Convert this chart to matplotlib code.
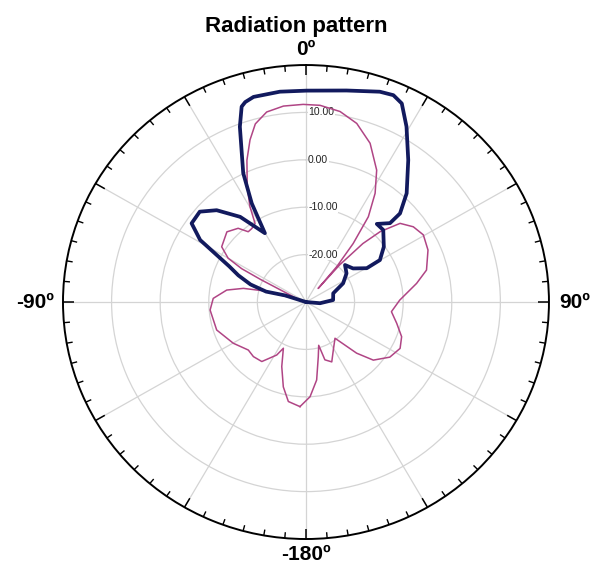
import numpy as np
import matplotlib
matplotlib.use("Agg")
import matplotlib.pyplot as plt

plt.rcParams['font.family'] = ['Liberation Sans', 'DejaVu Sans']

# ---- data (angle in degrees, clockwise from top; gain in dB) ----
navy_theta = [-65, -72, -75, -72, -68, -64.5, -59, -54.8, -48.9, -43.5, -37, -30.2,
              -28.2, -25.4, -20.2, -17.8, -16.5, -14, -6.9, 0.2, 10.6, 18.9, 22.4, 25.2,
              29.2, 35.1, 42.1, 46, 46.1, 41.5, 46.3, 54, 59.8, 60.3, 53.8, 45.8,
              54.1, 62.7, 71.9, 85.7, 95, 110]
navy_db = [-30, -25.5, -21.5, -18, -15, -12.5, -4.6, -1.2, -1.0, -3.3, -7.5, -13.2,
           -6.4, 0.1, 9.4, 13.3, 14.0, 14.6, 14.7, 14.6, 15.4, 16.9, 17.2, 16.3,
           12.4, 6.6, 0.9, -3.1, -6.0, -8.0, -8.0, -10.2, -12.4, -15.6, -18.0, -18.8,
           -19.7, -21.4, -24.1, -24.4, -27.1, -30]

mag_theta = [-176.8, -170.2, -165.4, -159.9, -154.5, -151.7, -144.1, -136.8, -130.5,
             -120.2, -107.8, -94.9, -87.7, -81.2, -77.4, -74.9, -71.0, -64.0, -63.0,
             -62.0, -60.0, -56.1, -47.7, -41.9, -38.7, -35.7, -32.3, -29.8, -26.5,
             -22.1, -18.6, -15.5, -11.4, -6.4, -0.8, 4.0, 9.9, 15.5, 21.5, 27.6,
             31.8, 35.5, 38.2, 40.3, 41.2, 41.5, 43.5, 45.8, 49.4, 54.3, 59.6, 66.4,
             74.8, 80.2, 88.8, 96.6, 103.5, 110.4, 116.8, 124.0, 131.5, 136.0, 140.1,
             142.0, 151.0, 157.2, 162.3, 164.0, 167.6, 172.4, 177.6]
mag_db = [-7.9, -8.7, -11.5, -15.5, -19.2, -17.3, -14.5, -14.2, -14.4,
          -12.7, -10.7, -10.2, -10.9, -13.5, -16.8, -20.9, -28.5, -24.0, -19.5,
          -15.0, -11.5, -9.1, -8.0, -9.1, -11.0, -10.9, -10.4, -6.8, -2.9,
          2.3, 6.1, 9.0, 10.9, 11.6, 11.7, 11.6, 10.8, 9.1, 6.0, 1.4,
          -3.0, -7.9, -14.3, -20.2, -26.2, -19.5, -13.0, -8.7, -4.5, -2.8, -2.0, -2.6,
          -4.3, -6.9, -10.7, -12.3, -10.8, -9.0, -8.3, -9.2, -11.5, -15.0, -19.1,
          -20.3, -18.4, -16.3, -17.2, -20.5, -18.2, -13.4, -10.0]

r_ticks = [-20, -10, 0, 10]
r_tick_labels = ['-20.00', '-10.00', '0.00', '10.00']
angle_grid = list(range(0, 360, 30))
angle_minor = list(range(0, 360, 5))
angle_labels = [0, 90, 180, 270]
angle_label_text = ['0º', '90º', '-180º', '-90º']
title = 'Radiation pattern'

R_MIN, R_MAX = -30, 20

# ---- figure ----
fig = plt.figure(figsize=(5.92, 5.64), dpi=100)
ax = fig.add_axes([0.1064, 0.0443, 0.8209, 0.8404], projection='polar')
ax.set_aspect('auto')
ax.set_theta_zero_location('N')
ax.set_theta_direction(-1)
ax.set_ylim(R_MIN, R_MAX)

mt = np.deg2rad(np.append(mag_theta, mag_theta[0] + 360))
md = np.append(mag_db, mag_db[0])
ax.plot(mt, md, color='#b04585', lw=1.1, solid_joinstyle='round', zorder=3)
ax.plot(np.deg2rad(navy_theta), navy_db, color='#121a5e', lw=2.7,
        solid_joinstyle='round', solid_capstyle='round', zorder=4)

ax.set_yticks(r_ticks)
ax.set_yticklabels([])
ax.set_xticks(np.deg2rad(angle_grid))
ax.set_xticklabels([])
ax.tick_params(axis='x', length=0)
ax.grid(True, color='#d4d4d4', lw=0.9)
ax.spines['polar'].set_color('black')
ax.spines['polar'].set_linewidth(1.4)

# inward tick marks on the rim
minor_only = [a for a in angle_minor if a % 30 != 0]
ax.vlines(np.deg2rad(minor_only), R_MAX - 1.25, R_MAX, color='black', lw=1.0,
          zorder=5)
ax.vlines(np.deg2rad(angle_grid), R_MAX - 2.2, R_MAX, color='black', lw=1.1,
          zorder=5)

# angle labels
offsets = {0: ((0, 7.2), 'center', 'baseline'),
           90: ((7.5, 0), 'left', 'center'),
           180: ((0, -4.0), 'center', 'top'),
           270: ((-6.5, 0), 'right', 'center')}
for a, txt in zip(angle_labels, angle_label_text):
    off, ha, va = offsets[a]
    ax.annotate(txt, xy=(np.deg2rad(a), R_MAX), xytext=off,
                textcoords='offset points', ha=ha, va=va, fontsize=15,
                fontweight='bold', annotation_clip=False)

for v, lab in zip(r_ticks, r_tick_labels):
    ax.annotate(lab, xy=(0, v), xytext=(1.5, 0), textcoords='offset points',
                ha='left', va='center', fontsize=7.5, color='#222222',
                bbox=dict(boxstyle='square,pad=0.05', fc='white', ec='none'),
                zorder=2)

fig.text(0.5, 1 - 31.7 / 564, title, ha='center', va='baseline', fontsize=16,
         fontweight='bold')

fig.savefig('out.png', dpi=100, facecolor='white')
